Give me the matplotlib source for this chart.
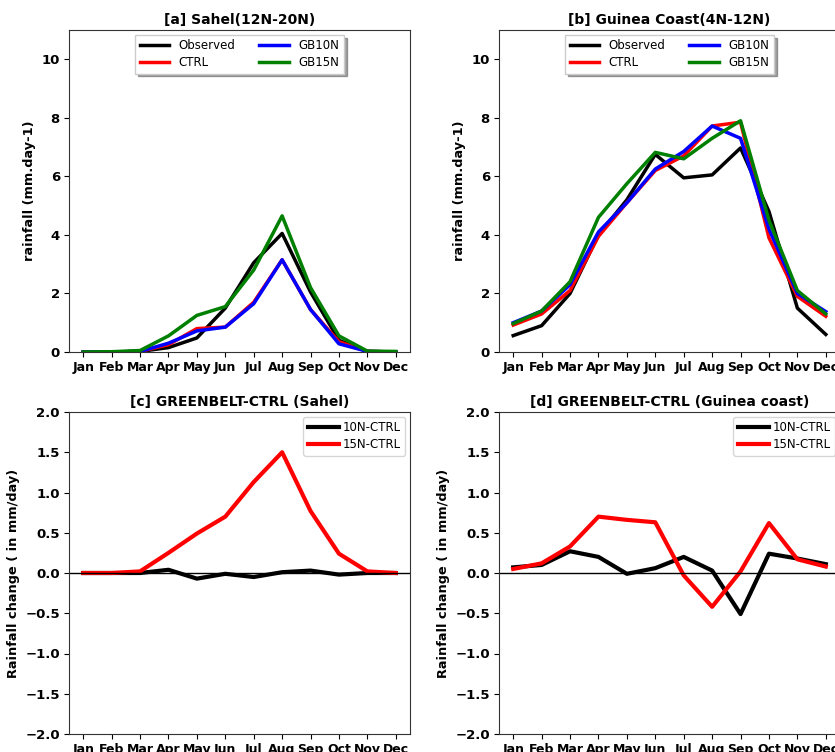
import matplotlib.pyplot as plt
import numpy as np

months = ['Jan', 'Feb', 'Mar', 'Apr', 'May', 'Jun', 'Jul', 'Aug', 'Sep', 'Oct', 'Nov', 'Dec']

# Sahel (12N-20N), mm/day
sahel_obs = [0.0, 0.0, 0.02, 0.15, 0.48, 1.5, 3.05, 4.05, 2.05, 0.4, 0.02, 0.0]
sahel_ctrl = [0.0, 0.0, 0.02, 0.25, 0.8, 0.85, 1.7, 3.15, 1.45, 0.35, 0.02, 0.0]
sahel_gb10 = [0.0, 0.0, 0.02, 0.3, 0.72, 0.85, 1.65, 3.15, 1.45, 0.28, 0.02, 0.0]
sahel_gb15 = [0.0, 0.01, 0.05, 0.55, 1.25, 1.55, 2.8, 4.65, 2.2, 0.55, 0.03, 0.02]

# Guinea coast (4N-12N), mm/day
guinea_obs = [0.56, 0.9, 2.0, 4.0, 5.2, 6.75, 5.95, 6.05, 6.97, 4.8, 1.5, 0.6]
guinea_ctrl = [0.92, 1.3, 2.1, 3.95, 5.1, 6.2, 6.7, 7.72, 7.85, 3.9, 1.9, 1.22]
guinea_gb10 = [1.0, 1.4, 2.3, 4.1, 5.1, 6.25, 6.85, 7.72, 7.3, 4.2, 2.0, 1.38]
guinea_gb15 = [0.97, 1.4, 2.4, 4.6, 5.75, 6.82, 6.6, 7.3, 7.9, 4.5, 2.1, 1.3]

# differences, mm/day
sahel_d10 = [0.0, 0.0, 0.0, 0.04, -0.07, -0.01, -0.05, 0.01, 0.03, -0.02, 0.0, 0.0]
sahel_d15 = [0.0, 0.0, 0.02, 0.25, 0.49, 0.7, 1.13, 1.5, 0.77, 0.24, 0.02, 0.0]
guinea_d10 = [0.07, 0.1, 0.27, 0.2, -0.01, 0.06, 0.2, 0.03, -0.51, 0.24, 0.18, 0.11]
guinea_d15 = [0.05, 0.12, 0.33, 0.7, 0.66, 0.63, -0.03, -0.42, 0.02, 0.62, 0.17, 0.08]

x = np.arange(len(months))

fig = plt.figure(figsize=(8.35, 7.52), dpi=100)
W, H = 835, 752


def make_ax(l, t, r, b):
    return fig.add_axes([l / W, 1 - b / H, (r - l) / W, (b - t) / H])


ax_a = make_ax(69, 30, 410, 352)
ax_b = make_ax(499, 30, 840, 352)
ax_c = make_ax(69, 412, 410, 734)
ax_d = make_ax(499, 412, 840, 734)


def style(ax, title, ylabel):
    ax.set_xticks(x)
    ax.set_xticklabels(months)
    ax.set_xlim(-0.5, 11.5)
    ax.set_title(title, fontsize=10, fontweight='bold', pad=4)
    ax.set_ylabel(ylabel, fontsize=9.3, fontweight='bold')
    for lab in ax.get_xticklabels():
        lab.set_fontweight('bold')
        lab.set_fontsize(9)
    for lab in ax.get_yticklabels():
        lab.set_fontweight('bold')
        lab.set_fontsize(9.5)
    ax.tick_params(pad=3)
    for sp in ax.spines.values():
        sp.set_color('#333333')


for ax, title, obs, ctrl, gb10, gb15 in [
        (ax_a, '[a] Sahel(12N-20N)', sahel_obs, sahel_ctrl, sahel_gb10, sahel_gb15),
        (ax_b, '[b] Guinea Coast(4N-12N)', guinea_obs, guinea_ctrl, guinea_gb10, guinea_gb15)]:
    ax.plot(x, obs, color='black', lw=2.5, label='Observed')
    ax.plot(x, ctrl, color='red', lw=2.5, label='CTRL')
    ax.plot(x, gb10, color='blue', lw=2.5, label='GB10N')
    ax.plot(x, gb15, color='green', lw=2.5, label='GB15N')
    ax.set_ylim(0, 11)
    ax.set_yticks([0, 2, 4, 6, 8, 10])
    style(ax, title, 'rainfall (mm.day-1)')
    ax.legend(loc='upper center', ncol=2, fontsize=8.5, shadow=True,
              borderaxespad=0.4, handlelength=2.5, columnspacing=2.0,
              handletextpad=0.8, labelspacing=0.3, fancybox=False)

for ax, title, d10, d15 in [
        (ax_c, '[c] GREENBELT-CTRL (Sahel)', sahel_d10, sahel_d15),
        (ax_d, '[d] GREENBELT-CTRL (Guinea coast)', guinea_d10, guinea_d15)]:
    ax.plot(x, d10, color='black', lw=3, label='10N-CTRL')
    ax.plot(x, d15, color='red', lw=3, label='15N-CTRL')
    ax.axhline(0, color='black', lw=1)
    ax.set_ylim(-2, 2)
    ax.set_yticks(np.arange(-2, 2.01, 0.5))
    style(ax, title, 'Rainfall change ( in mm/day)')
    ax.legend(loc='upper right', fontsize=8.5, borderaxespad=0.4,
              handlelength=2.6, handletextpad=0.3, labelspacing=0.3)

fig.savefig('out.png', dpi=100)
